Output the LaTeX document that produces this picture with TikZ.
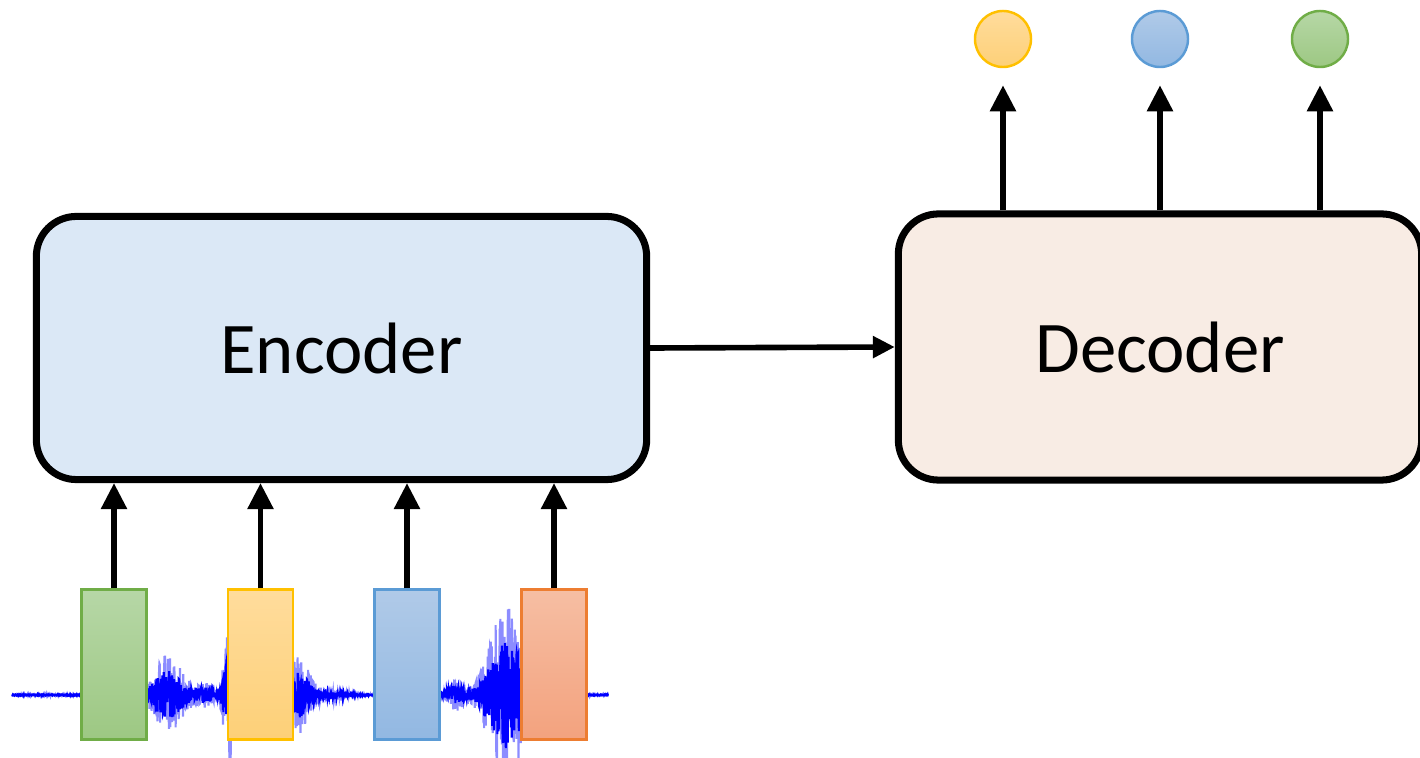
\documentclass[tikz,border=0pt]{standalone}
\usepackage{fontspec}
\setmainfont{Carlito}
\usetikzlibrary{arrows.meta}

\definecolor{encfill}{RGB}{219,232,246}
\definecolor{decfill}{RGB}{248,236,228}
\definecolor{gtop}{RGB}{182,215,166}
\definecolor{gbot}{RGB}{157,200,131}
\definecolor{gline}{RGB}{112,173,71}
\definecolor{ytop}{RGB}{255,220,156}
\definecolor{ybot}{RGB}{253,208,120}
\definecolor{yline}{RGB}{255,192,0}
\definecolor{btop}{RGB}{176,202,232}
\definecolor{bbot}{RGB}{146,184,226}
\definecolor{bline}{RGB}{91,155,213}
\definecolor{otop}{RGB}{246,190,163}
\definecolor{obot}{RGB}{243,162,126}
\definecolor{oline}{RGB}{237,125,49}
\definecolor{wavecol}{RGB}{0,0,255}

\begin{document}
\begin{tikzpicture}[
    x=0.01cm, y=-0.01cm,
    blockbox/.style={draw=black, line width=2pt, rounded corners=0.4cm,
        font=\fontsize{20.7}{25}\selectfont, inner sep=0pt},
    framebox/.style={line width=0.6pt, minimum width=0.65cm,
        minimum height=1.5cm, inner sep=0pt},
    outdot/.style={circle, line width=0.7pt, minimum size=0.56cm, inner sep=0pt},
    flowarrow/.style={-{Triangle[length=2.6mm,width=2.5mm]}, line width=1.6pt},
    linkarrow/.style={-{Triangle[length=2.2mm,width=2.1mm]}, line width=1.6pt},
    wave/.style={wavecol, line width=0.6pt},
    declare function={
        env(\t)=0.8 + 40*exp(-((\t-168)/18)^2) + 12*exp(-((\t-205)/14)^2)
              + 72*exp(-((\t-229)/6)^2) + 38*exp(-((\t-298)/15)^2)
              + 5*exp(-((\t-332)/16)^2) + 15*exp(-((\t-456)/10)^2)
              + 88*exp(-((\t-506)/22)^2);
    },
]

\useasboundingbox (0,0) rectangle (1420,758);

% speech signal under the frames
\pgfmathsetseed{7}
\draw[wave, opacity=0.45] plot[domain=12:608, samples=1800]
    (\x, {695 + env(\x)*(2*rnd-1)});
\draw[wave] plot[domain=12:608, samples=2200]
    (\x, {695 + 0.6*env(\x)*(2*rnd-1)});

% encoder / decoder blocks
\node[blockbox, fill=encfill, minimum width=6.1cm, minimum height=2.63cm]
    (enc) at (341.5,348) {Encoder};
\node[blockbox, fill=decfill, minimum width=5.23cm, minimum height=2.66cm]
    (dec) at (1160,347) {Decoder};

% input frames
\node[framebox, top color=gtop, bottom color=gbot, draw=gline] (f1) at (114,664.5) {};
\node[framebox, top color=ytop, bottom color=ybot, draw=yline] (f2) at (260.5,664.5) {};
\node[framebox, top color=btop, bottom color=bbot, draw=bline] (f3) at (407,664.5) {};
\node[framebox, top color=otop, bottom color=obot, draw=oline] (f4) at (554,664.5) {};

\foreach \f in {f1,f2,f3,f4}
    \draw[flowarrow] (\f.north) -- (\f.north |- enc.south);

% output tokens
\node[outdot, top color=ytop, bottom color=ybot, draw=yline] (o1) at (1003,39) {};
\node[outdot, top color=btop, bottom color=bbot, draw=bline] (o2) at (1160,39) {};
\node[outdot, top color=gtop, bottom color=gbot, draw=gline] (o3) at (1320,39) {};

\foreach \o in {o1,o2,o3}
    \draw[flowarrow, shorten >=0.17cm] (\o |- dec.north) -- (\o.south);

\draw[linkarrow] (enc.east) -- (dec.west);

\end{tikzpicture}
\end{document}
